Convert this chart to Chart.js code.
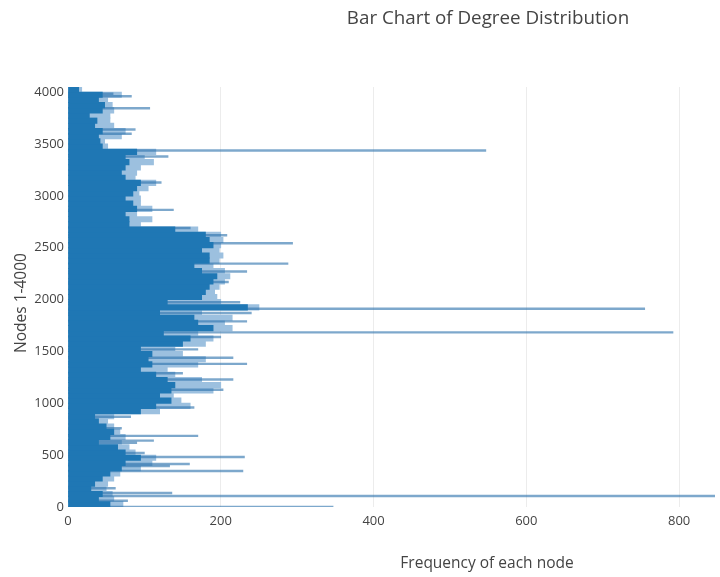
<!DOCTYPE html>
<html>
<head>
<meta charset="utf-8">
<title>Bar Chart of Degree Distribution</title>
<script src="https://cdn.jsdelivr.net/npm/chart.js@4.4.1/dist/chart.umd.min.js"></script>
<style>
  html, body { margin: 0; padding: 0; background: #fff; }
  #wrap { width: 720px; height: 577px; position: relative; }
</style>
</head>
<body>
<div id="wrap"><canvas id="chart" width="720" height="577"></canvas></div>
<script>
// Degree per block of 50 consecutive nodes (block 0 = nodes 0-49, ...)
const blockSize = 50;
// typical (solid) degree inside each block
const coreDegree = [
  55, 40, 45, 30, 35, 45, 55, 70, 75, 95,
  75, 65, 40, 55, 60, 50, 40, 35, 95, 115,
  135, 120, 135, 140, 130, 115, 95, 110, 105, 110,
  95, 150, 160, 125, 190, 170, 165, 120, 235, 130,
  175, 180, 185, 190, 195, 175, 165, 185, 185, 175,
  190, 185, 180, 140, 80, 80, 75, 90, 85, 75,
  85, 90, 95, 75, 70, 75, 80, 75, 90, 45,
  42, 40, 45, 35, 38, 28, 45, 48, 40, 45,
  14
];
// upper degree reached by the sparser nodes of each block
const peakDegree = [
  72, 60, 58, 50, 52, 60, 68, 95, 110, 115,
  88, 80, 70, 75, 68, 60, 52, 60, 120, 160,
  148, 138, 190, 200, 175, 140, 130, 170, 180, 150,
  140, 180, 190, 170, 215, 205, 215, 175, 250, 200,
  195, 192, 198, 205, 212, 205, 190, 198, 203, 198,
  200, 203, 200, 170, 95, 110, 90, 110, 95, 95,
  93, 105, 115, 88, 90, 95, 112, 100, 115, 52,
  48, 70, 75, 60, 55, 55, 60, 58, 52, 70,
  18
];
// individual high-degree nodes
const spikeNodes = [
  0, 60, 107, 136, 180, 348, 395, 414, 483, 520,
  620, 640, 686, 760, 870, 960, 1130, 1230, 1290, 1380,
  1440, 1520, 1640, 1684, 1790, 1870, 1912, 1975, 2170, 2270,
  2347, 2543, 2620, 2690, 2865, 3130, 3380, 3437, 3600, 3640,
  3846, 3960, 3985
];
const spikeDegrees = [
  347, 78, 1045, 136, 62, 229, 133, 159, 231, 100,
  90, 112, 170, 70, 82, 165, 203, 216, 150, 234,
  216, 170, 200, 792, 234, 240, 755, 225, 210, 234,
  288, 294, 208, 160, 138, 122, 131, 547, 83, 88,
  107, 83, 59
];
const xTicks = [0, 200, 400, 600, 800];
const yTicks = [0, 500, 1000, 1500, 2000, 2500, 3000, 3500, 4000];

const blockPoints = (arr) => arr.map((d, i) => ({ x: d, y: i * blockSize + blockSize / 2 }));
const spikePoints = spikeNodes.map((n, i) => ({ x: spikeDegrees[i], y: n }));

const FONT = '"Open Sans", "DejaVu Sans", sans-serif';
const TEXT = '#444444';

// titles placed over the figure
const titlesPlugin = {
  id: 'figureTitles',
  afterDraw(chart) {
    const ctx = chart.ctx;
    ctx.save();
    ctx.fillStyle = TEXT;
    ctx.textAlign = 'center';
    ctx.textBaseline = 'middle';
    ctx.font = '18.8px ' + FONT;
    ctx.fillText('Bar Chart of Degree Distribution', 488, 19);
    ctx.font = '15.5px ' + FONT;
    ctx.fillText('Frequency of each node', 487, 564);
    ctx.translate(22, 303);
    ctx.rotate(-Math.PI / 2);
    ctx.fillText('Nodes 1-4000', 0, 0);
    ctx.restore();
  }
};

new Chart(document.getElementById('chart'), {
  type: 'bar',
  data: {
    datasets: [
      {
        label: 'core',
        data: blockPoints(coreDegree),
        backgroundColor: '#1f77b4',
        barThickness: 5.5,
        grouped: false,
        order: 0
      },
      {
        label: 'nodes',
        data: spikePoints,
        backgroundColor: 'rgba(45,115,172,0.62)',
        barThickness: 1.8,
        grouped: false,
        order: 1
      },
      {
        label: 'peak',
        data: blockPoints(peakDegree),
        backgroundColor: '#9cc0df',
        barThickness: 5.5,
        grouped: false,
        order: 2
      }
    ]
  },
  options: {
    indexAxis: 'y',
    responsive: false,
    animation: false,
    events: [],
    layout: { padding: { top: 87, right: 5, left: 0, bottom: 0 } },
    plugins: {
      legend: { display: false },
      tooltip: { enabled: false },
      title: { display: false }
    },
    scales: {
      x: {
        type: 'linear',
        min: 0,
        max: 847,
        offset: false,
        border: { display: false },
        grid: { color: '#ececec', lineWidth: 1, drawTicks: false },
        ticks: {
          padding: 6,
          color: TEXT,
          font: { family: FONT, size: 13 }
        },
        afterBuildTicks(scale) { scale.ticks = xTicks.map(v => ({ value: v })); },
        afterFit(scale) { scale.height = 70; }
      },
      y: {
        type: 'linear',
        min: 0,
        max: 4050,
        offset: false,
        border: { display: false },
        grid: { display: false, drawTicks: false, offset: false },
        ticks: {
          padding: 4,
          color: TEXT,
          font: { family: FONT, size: 13 },
          callback: (v) => String(v)
        },
        afterBuildTicks(scale) { scale.ticks = yTicks.map(v => ({ value: v })); },
        afterFit(scale) { scale.width = 68; }
      }
    }
  },
  plugins: [titlesPlugin]
});
</script>
</body>
</html>
